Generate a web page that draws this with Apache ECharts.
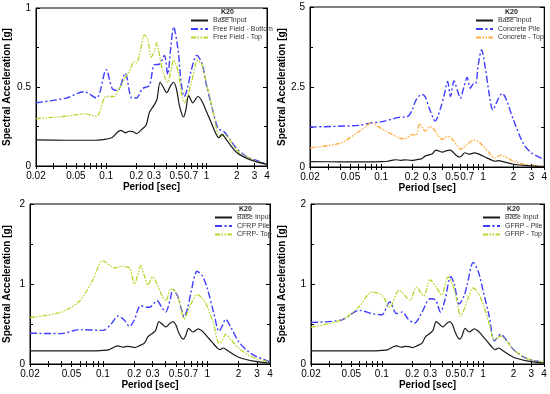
<!DOCTYPE html>
<html><head><meta charset="utf-8">
<script src="https://cdn.jsdelivr.net/npm/echarts@6/dist/echarts.min.js"></script>
<style>html,body{margin:0;padding:0;background:#fff}#c{width:550px;height:394px}</style>
</head><body><div id="c"></div>
<script>
// ---- data: [period (s), spectral acceleration (g)] ----
const baseInput = [[0.02,0.165],[0.04,0.163],[0.08,0.163],[0.1,0.17],[0.115,0.18],[0.13,0.215],[0.14,0.226],[0.155,0.21],[0.17,0.22],[0.185,0.218],[0.2,0.205],[0.225,0.23],[0.25,0.26],[0.27,0.34],[0.3,0.385],[0.32,0.42],[0.345,0.53],[0.37,0.5],[0.4,0.464],[0.44,0.51],[0.47,0.53],[0.5,0.49],[0.54,0.375],[0.59,0.31],[0.62,0.35],[0.665,0.445],[0.73,0.40],[0.82,0.44],[0.9,0.41],[1.0,0.343],[1.12,0.27],[1.26,0.195],[1.33,0.18],[1.42,0.2],[1.6,0.16],[2.0,0.085],[2.7,0.04],[4,0.01]];

const ffBottom = [[0.02,0.4],[0.04,0.43],[0.06,0.47],[0.08,0.43],[0.1,0.61],[0.115,0.49],[0.13,0.477],[0.155,0.587],[0.18,0.43],[0.2,0.43],[0.23,0.49],[0.27,0.51],[0.3,0.64],[0.34,0.645],[0.38,0.7],[0.41,0.58],[0.44,0.75],[0.47,0.88],[0.52,0.735],[0.56,0.52],[0.6,0.44],[0.65,0.5],[0.7,0.6],[0.8,0.7],[0.9,0.65],[1.0,0.51],[1.15,0.355],[1.3,0.24],[1.5,0.215],[1.7,0.17],[2.0,0.11],[2.5,0.06],[3,0.04],[4,0.01]];
const ffTop = [[0.02,0.3],[0.04,0.315],[0.06,0.33],[0.08,0.315],[0.1,0.44],[0.12,0.44],[0.13,0.47],[0.15,0.545],[0.17,0.6],[0.19,0.66],[0.2,0.65],[0.22,0.735],[0.24,0.83],[0.26,0.8],[0.28,0.69],[0.3,0.72],[0.32,0.78],[0.34,0.7],[0.37,0.59],[0.41,0.53],[0.44,0.6],[0.47,0.67],[0.52,0.6],[0.57,0.44],[0.6,0.4],[0.7,0.52],[0.82,0.67],[0.9,0.64],[1.0,0.52],[1.15,0.36],[1.3,0.2],[1.4,0.19],[1.5,0.2],[2.0,0.1],[2.5,0.06],[3,0.035],[4,0.01]];

const concretePile = [[0.02,1.25],[0.06,1.3],[0.08,1.38],[0.1,1.41],[0.15,1.55],[0.18,1.57],[0.2,1.75],[0.22,2.09],[0.25,2.27],[0.27,2.2],[0.3,1.8],[0.34,1.44],[0.38,1.8],[0.42,2.3],[0.45,2.67],[0.48,2.2],[0.52,2.69],[0.56,2.4],[0.6,2.15],[0.65,2.5],[0.7,2.8],[0.75,2.46],[0.8,2.59],[0.85,2.6],[0.9,3.2],[0.97,3.66],[1.05,3.14],[1.15,2.3],[1.25,1.78],[1.4,2.1],[1.55,2.3],[1.7,2.1],[2.0,1.46],[2.5,0.73],[3.0,0.44],[4.0,0.23]];
const concreteTop = [[0.02,0.6],[0.04,0.75],[0.06,1.1],[0.07,1.25],[0.08,1.39],[0.1,1.2],[0.15,0.91],[0.17,0.88],[0.2,1.01],[0.22,1.0],[0.24,1.36],[0.27,1.12],[0.3,1.26],[0.33,1.18],[0.36,1.0],[0.4,0.86],[0.45,0.96],[0.5,0.87],[0.55,0.7],[0.6,0.55],[0.65,0.62],[0.7,0.7],[0.8,0.84],[0.9,0.8],[1.0,0.66],[1.15,0.45],[1.3,0.28],[1.5,0.37],[1.7,0.3],[2.0,0.18],[2.5,0.09],[3,0.05],[4,0.02]];

const cfrpPile = [[0.02,0.385],[0.04,0.38],[0.06,0.43],[0.1,0.42],[0.12,0.5],[0.14,0.6],[0.16,0.55],[0.18,0.47],[0.2,0.55],[0.23,0.73],[0.26,0.71],[0.28,0.71],[0.33,0.79],[0.37,0.7],[0.4,0.65],[0.44,0.8],[0.47,0.93],[0.52,0.85],[0.57,0.67],[0.6,0.59],[0.65,0.7],[0.7,0.9],[0.8,1.16],[0.9,1.1],[1.0,0.95],[1.15,0.65],[1.3,0.41],[1.4,0.48],[1.5,0.56],[1.7,0.45],[2.0,0.28],[2.5,0.15],[3,0.09],[4,0.03]];
const cfrpTop = [[0.02,0.58],[0.04,0.65],[0.06,0.79],[0.08,1.05],[0.1,1.29],[0.13,1.2],[0.15,1.22],[0.18,1.2],[0.2,1.0],[0.22,1.15],[0.23,1.23],[0.25,1.1],[0.27,0.99],[0.3,1.09],[0.33,1.0],[0.37,0.85],[0.4,0.79],[0.45,0.94],[0.5,0.9],[0.55,0.75],[0.6,0.56],[0.65,0.65],[0.7,0.75],[0.8,0.87],[0.9,0.82],[1.0,0.72],[1.15,0.5],[1.3,0.26],[1.4,0.3],[1.5,0.37],[1.7,0.3],[2.0,0.2],[2.5,0.11],[3,0.065],[4,0.025]];

const gfrpPile = [[0.02,0.52],[0.04,0.55],[0.06,0.67],[0.08,0.63],[0.1,0.615],[0.12,0.775],[0.14,0.63],[0.16,0.65],[0.18,0.57],[0.21,0.51],[0.25,0.65],[0.3,0.815],[0.34,0.8],[0.38,0.65],[0.42,0.8],[0.48,1.09],[0.52,1.0],[0.58,0.75],[0.65,0.85],[0.7,1.0],[0.8,1.27],[0.9,1.15],[1.0,0.92],[1.15,0.6],[1.3,0.29],[1.5,0.37],[1.7,0.3],[2.0,0.18],[2.5,0.09],[3,0.05],[4,0.02]];
const gfrpTop = [[0.02,0.46],[0.04,0.55],[0.06,0.72],[0.08,0.9],[0.1,0.86],[0.12,0.71],[0.148,0.92],[0.19,0.8],[0.22,0.96],[0.26,0.85],[0.3,1.05],[0.35,0.95],[0.39,0.86],[0.45,1.09],[0.5,1.0],[0.55,0.8],[0.6,0.6],[0.65,0.68],[0.7,0.8],[0.8,0.95],[0.9,0.88],[1.0,0.75],[1.15,0.5],[1.3,0.3],[1.5,0.35],[1.7,0.29],[2.0,0.18],[2.5,0.09],[3,0.05],[4,0.02]];

const xLabelValues = [0.02,0.05,0.1,0.2,0.3,0.5,0.7,1,2,3,4];
const xTickValues = [0.02,0.03,0.04,0.05,0.06,0.07,0.08,0.09,0.1,0.2,0.3,0.4,0.5,0.6,0.7,0.8,0.9,1,2,3,4];
const yMaxes = [1,5,2,2];
const yIntervals = [0.5,2.5,1,1];
const legendTitle = 'K20';
const panelNames = [
  ['Base Input','Free Field - Bottom','Free Field - Top'],
  ['Base Input','Concrete Pile','Concrete - Top'],
  ['Base Input','CFRP Pile','CFRP- Top'],
  ['Base Input','GFRP - Pile','GFRP - Top']
];
const panelData = [
  [baseInput, ffBottom, ffTop],
  [baseInput, concretePile, concreteTop],
  [baseInput, cfrpPile, cfrpTop],
  [baseInput, gfrpPile, gfrpTop]
];

// ---- layout / styles ----
const grids = [
  {left:36, top:8, width:231, height:158},
  {left:310, top:7, width:235, height:160},
  {left:30, top:204, width:240, height:160},
  {left:311, top:204, width:233, height:160}
];
const yNameGap = [24,23,18,24];
const FONT = 'Liberation Sans, Arial, sans-serif';
const lineStyles = [
  {color:'#1a1a1a', width:1.2, type:'solid'},
  {color:'#3d3dff', width:1.4, type:[7,2.5,2,2.5]},
  null
];
const thirdColors = ['#b5d62a','#ffab3a','#b5d62a','#b5d62a'];
const legendPos = [
  {left:190, top:17, titleX:221, titleY:9},
  {left:475, top:17, titleX:505, titleY:9},
  {left:214, top:214, titleX:239, titleY:206},
  {left:482, top:214, titleX:507, titleY:206}
];

const fmt = v => String(Number((+v).toPrecision(6)));
const option = {
  animation:false,
  backgroundColor:'#fff',
  grid: grids.map(g => Object.assign({show:true, borderColor:'#000', borderWidth:1, containLabel:false}, g)),
  xAxis: [], yAxis: [], series: [], legend: [], graphic: []
};
for (let i=0;i<4;i++){
  const common = {type:'log', logBase:10, min:0.02, max:4, gridIndex:i,
    axisLine:{show:true, lineStyle:{color:'#000', width:1}},
    splitLine:{show:false}};
  option.xAxis.push(Object.assign({}, common, {position:'bottom',
    name:'Period [sec]', nameLocation:'middle', nameGap:16,
    nameTextStyle:{fontFamily:FONT, fontWeight:'bold', fontSize:10, color:'#000'},
    axisTick:{show:true, inside:true, length:3, customValues:xTickValues, lineStyle:{color:'#000'}},
    axisLabel:{show:true, customValues:xLabelValues, formatter:fmt, fontFamily:FONT, fontSize:10, color:'#000', margin:5, hideOverlap:false}
  }));
  option.xAxis.push(Object.assign({}, common, {position:'top',
    axisTick:{show:true, inside:true, length:3, customValues:xTickValues, lineStyle:{color:'#000'}},
    axisLabel:{show:false}
  }));
  const ycommon = {type:'value', min:0, max:yMaxes[i], interval:yIntervals[i], gridIndex:i,
    axisLine:{show:true, lineStyle:{color:'#000'}}, splitLine:{show:false},
    axisTick:{show:true, inside:true, length:4, lineStyle:{color:'#000'}},
    minorTick:{show:true, splitNumber:2, length:3, lineStyle:{color:'#000'}}};
  option.yAxis.push(Object.assign({}, ycommon, {position:'left',
    name:'Spectral Acceleration [g]', nameLocation:'middle', nameGap:yNameGap[i], nameRotate:90,
    nameTextStyle:{fontFamily:FONT, fontWeight:'bold', fontSize:10, color:'#000'},
    axisLabel:{show:true, fontFamily:FONT, fontSize:10, color:'#000', margin:5}
  }));
  option.yAxis.push(Object.assign({}, ycommon, {position:'right', axisLabel:{show:false}}));

  for (let k=0;k<3;k++){
    let ls = lineStyles[k];
    if (k===2) ls = {color:thirdColors[i], width:1.3, type:[5,1.5,1.5,1.5,1.5,1.5]};
    option.series.push({
      type:'line', name:panelNames[i][k], xAxisIndex:i*2, yAxisIndex:i*2,
      data:panelData[i][k], showSymbol:false, symbol:'none', smooth:0.3,
      lineStyle:ls, itemStyle:{color:ls.color}, z: k===0?3:2
    });
  }
  option.legend.push({
    data:panelNames[i], orient:'vertical', left:legendPos[i].left, top:legendPos[i].top,
    itemWidth:17, itemHeight:6, itemGap:1.5, padding:0, selectedMode:false,
    itemStyle:{opacity:0, borderWidth:0},
    textStyle:{fontFamily:FONT, fontSize:7, color:'#333'}
  });
  option.graphic.push({type:'text', left:legendPos[i].titleX, top:legendPos[i].titleY,
    style:{text:legendTitle, font:'bold 7px '+FONT, fill:'#222'}});
  option.graphic.push({type:'rect', left:legendPos[i].titleX, top:legendPos[i].titleY+8,
    shape:{width:11.5, height:0.6}, style:{fill:'#222'}});
}
const chart = echarts.init(document.getElementById('c'), null, {renderer:'canvas'});
chart.setOption(option);
</script></body></html>
